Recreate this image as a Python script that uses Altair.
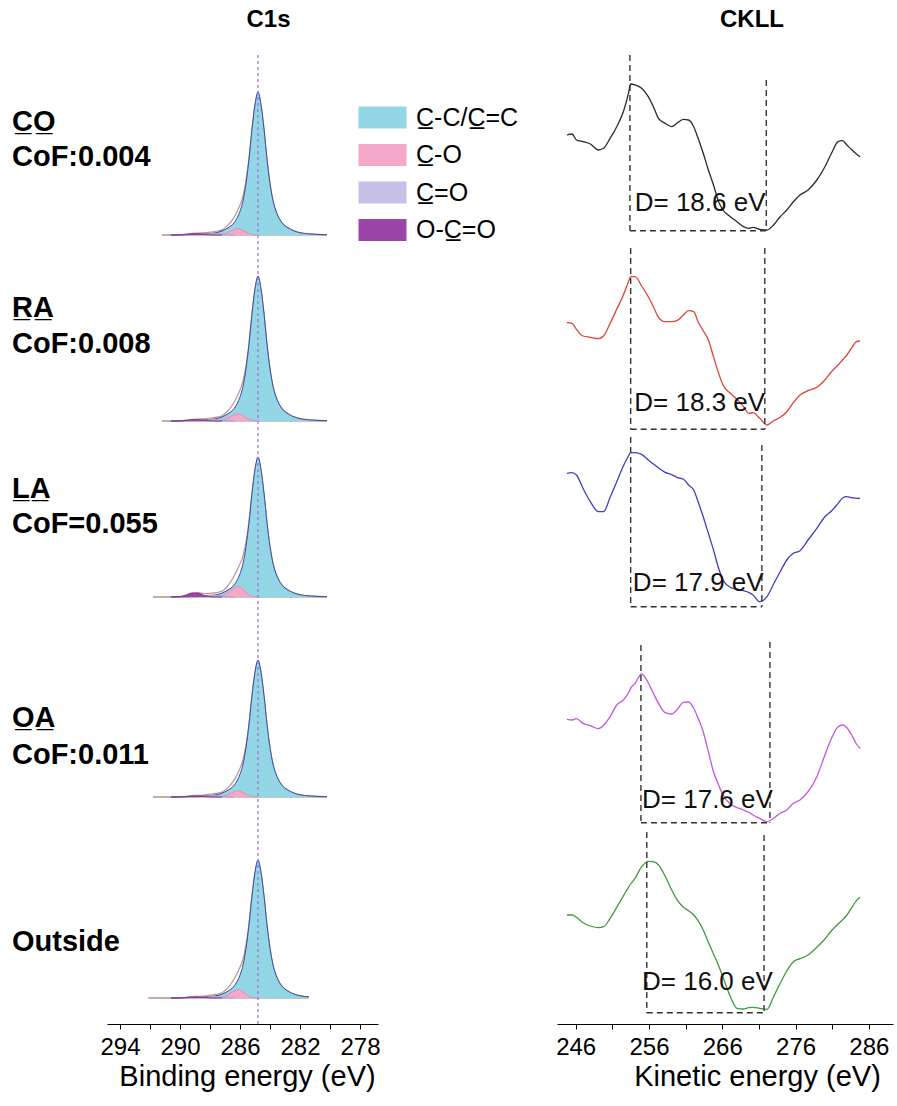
import altair as alt
import pandas as pd

FONT = "Liberation Sans, Arial, Helvetica, sans-serif"

# ---------------- samples / labels ----------------
samples = ["CO", "RA", "LA", "OA", "Outside"]
name_text = ["C\u0332O\u0332", "R\u0332A\u0332", "L\u0332A\u0332", "O\u0332A\u0332", "Outside"]
name_y = [902, 716, 535, 306, 82]
cof_text = ["CoF:0.004", "CoF:0.008", "CoF=0.055", "CoF:0.011"]
cof_y = [867, 680, 500, 269]

# ---------------- C1s (binding energy) ----------------
c1s_baseline = [789, 603, 427, 227, 26]      # stacking offsets (a.u.)
c1s_height = [143, 145, 140, 137, 138]       # C-C peak intensity (a.u.)
span_lo = [280.2, 280.2, 280.2, 280.2, 281.4]
span_hi = [291.2, 291.2, 291.8, 291.8, 292.1]
be_grid = [280.2, 280.8, 281.4, 282.0, 282.5, 282.8, 283.2, 283.5, 283.8, 284.0,
           284.2, 284.4, 284.6, 284.8, 285.0, 285.2, 285.4, 285.6, 285.8, 286.1,
           286.4, 286.8, 287.2, 287.6, 288.0, 288.4, 288.8, 289.2, 289.6, 290.0,
           290.6, 291.2, 291.8, 292.1]
cc_shape = [0.002, 0.004, 0.008, 0.016, 0.033, 0.05, 0.085, 0.14, 0.24, 0.36,
            0.53, 0.74, 0.91, 1.0, 0.91, 0.74, 0.53, 0.36, 0.24, 0.14,
            0.085, 0.05, 0.028, 0.016, 0.010, 0.007, 0.004, 0.003, 0.002, 0.001,
            0, 0, 0, 0]
co_shape = [0, 0, 0, 0, 0, 0, 0, 0, 0, 0,
            0, 0, 0, 0, 0.02, 0.06, 0.2, 0.45, 0.72, 1.0,
            0.85, 0.4, 0.1, 0.02, 0, 0, 0, 0, 0, 0,
            0, 0, 0, 0]
ceo_shape = [0, 0, 0, 0, 0, 0, 0, 0, 0, 0,
             0, 0, 0, 0, 0, 0, 0, 0, 0, 0,
             0, 0.05, 0.35, 0.9, 0.9, 0.4, 0.08, 0, 0, 0,
             0, 0, 0, 0]
ocoo_shape = [0, 0, 0, 0, 0, 0, 0, 0, 0, 0,
              0, 0, 0, 0, 0, 0, 0, 0, 0, 0,
              0, 0, 0, 0.02, 0.08, 0.4, 0.9, 0.9, 0.4, 0.08,
              0, 0, 0, 0]
cc_amp = [1, 1, 1, 1, 1]
co_amp = [0.045, 0.05, 0.075, 0.045, 0.06]
ceo_amp = [0.01, 0.01, 0.015, 0.01, 0.01]
ocoo_amp = [0.01, 0.01, 0.03, 0.008, 0.008]
cc_peak_be = 284.8
marker_top = 969

components = ["C\u0332-C/C\u0332=C", "C\u0332-O", "C\u0332=O", "O-C\u0332=O"]
comp_colors = ["#93d6e6", "#f5a9c8", "#c7bfe6", "#9c45a8"]
comp_lines = ["#3a4ba0", "#e48db3", "#a99fd6", "#8a3596"]

# ---------------- CKLL (kinetic energy) ----------------
ke = [244.8, 245.5, 246.1, 247.0, 248.0, 249.1, 249.8, 250.7, 251.6, 252.5,
      253.2, 253.5, 254.1, 255.0, 255.9, 256.6, 257.3, 258.2, 259.1, 259.8,
      260.7, 261.4, 262.1, 262.7, 263.4, 264.1, 264.8, 265.5, 266.1, 267.1,
      268.0, 268.9, 269.6, 270.2, 271.1, 272.1, 273.0, 273.9, 274.8, 275.7,
      276.6, 277.7, 278.9, 280.0, 280.9, 281.8, 282.4, 283.0, 283.7, 284.3, 284.8]
ckll_CO = [135.0, 136.0, 130.0, 128.3, 126.0, 120.0, 121.7, 131.7, 143.3, 158.3,
           176.7, 186.0, 185.0, 181.7, 173.3, 163.3, 151.7, 146.7, 143.3, 146.7,
           150.7, 150.0, 143.3, 131.7, 116.7, 100.0, 85.0, 68.3, 60.0, 53.3,
           48.3, 43.3, 41.7, 42.7, 40.7, 40.0, 45.0, 53.3, 60.0, 68.3,
           75.0, 80.0, 90.0, 103.3, 116.7, 128.3, 129.3, 125.0, 120.0, 116.0, 113.3]
ckll_RA = [137.3, 136.7, 130.7, 124.0, 122.7, 121.3, 124.0, 136.7, 150.7, 165.0,
           178.3, 183.3, 183.3, 174.0, 163.3, 153.3, 142.7, 138.3, 138.3, 139.3,
           145.0, 149.3, 148.3, 138.3, 129.3, 120.0, 103.3, 86.7, 75.0, 66.7,
           60.7, 53.3, 46.7, 47.3, 41.7, 35.0, 39.3, 42.7, 48.3, 57.3,
           65.0, 69.3, 72.7, 80.0, 88.3, 95.0, 100.0, 105.0, 112.7, 118.3, 119.0]
ckll_LA = [166.7, 167.3, 165.0, 151.7, 138.3, 128.3, 128.3, 142.7, 158.3, 174.0,
           184.0, 187.3, 187.3, 185.7, 180.0, 176.0, 172.0, 167.7, 165.3, 162.7,
           160.7, 155.0, 150.0, 138.3, 123.3, 106.7, 90.0, 71.7, 60.0, 52.7,
           51.0, 49.3, 47.7, 45.0, 38.3, 43.3, 56.0, 68.3, 80.0, 86.7,
           89.3, 100.0, 111.7, 123.3, 129.0, 136.7, 142.0, 143.3, 142.3, 141.7, 141.7]
ckll_OA = [120.7, 120.0, 121.3, 116.7, 114.3, 111.3, 114.7, 123.3, 135.0, 140.0,
           147.3, 151.7, 156.7, 166.0, 157.3, 146.7, 136.7, 127.3, 126.0, 130.0,
           137.7, 138.0, 131.7, 121.7, 108.3, 88.3, 68.3, 55.0, 45.0, 36.0,
           32.3, 30.0, 27.7, 25.0, 21.7, 18.3, 21.7, 26.7, 30.0, 36.7,
           40.0, 48.3, 63.3, 85.0, 101.7, 113.3, 115.0, 112.3, 104.3, 96.0, 91.7]
ckll_Out = [105.0, 105.0, 102.7, 97.3, 94.0, 92.3, 93.3, 101.7, 112.7, 124.0,
            132.7, 136.0, 141.7, 153.3, 158.7, 158.3, 155.0, 144.0, 130.0, 120.7,
            112.7, 109.3, 105.0, 99.3, 90.0, 77.7, 66.0, 54.3, 42.7, 23.3,
            11.7, 11.0, 12.3, 12.7, 11.7, 10.7, 23.3, 36.7, 49.0, 58.3,
            61.3, 65.0, 72.7, 81.0, 89.3, 96.0, 100.0, 105.0, 112.7, 119.3, 122.7]
ckll_offset = [754, 564, 384, 184, 4]
curve_colors = ["#2a2a2a", "#e0433b", "#3f3fc4", "#c157df", "#3f9a3f"]

d_x1 = [253.4, 253.5, 253.5, 254.9, 255.7]
d_x2 = [272.0, 271.8, 271.4, 272.5, 271.7]
d_top1 = [969, 776, 587, 379, 192]
d_top2 = [944, 776, 579, 382, 189]
d_bottom = [793.3, 594.7, 417.3, 201.3, 11.3]
d_values = ["18.6", "18.3", "17.9", "17.6", "16.0"]
d_label_y = [821, 621, 441, 224, 42]

# ---------------- tables ----------------
shapes = [cc_shape, co_shape, ceo_shape, ocoo_shape]
amps = [cc_amp, co_amp, ceo_amp, ocoo_amp]
comp_rows, env_rows = [], []
for i, s in enumerate(samples):
    base, h = c1s_baseline[i], c1s_height[i]
    idx = [j for j, b in enumerate(be_grid) if span_lo[i] <= b <= span_hi[i]]
    for k, comp in enumerate(components):
        sh = shapes[k]
        for j in idx:
            near = any(sh[m] > 0 for m in range(max(0, j - 1), min(len(sh), j + 2)))
            if not near:
                continue
            comp_rows.append(dict(sample=s, component=comp, be=be_grid[j],
                                  y0=base, y=base + h * amps[k][i] * sh[j]))
    for j in idx:
        tot = sum(amps[k][i] * shapes[k][j] for k in range(4))
        env_rows.append(dict(sample=s, be=be_grid[j], y0=base, y=base + h * tot))
comp_df = pd.DataFrame(comp_rows)
env_df = pd.DataFrame(env_rows)
marker_df = pd.DataFrame({"be": [cc_peak_be], "y": [marker_top], "y0": [0]})

lab_rows = [dict(label=t, ly=y) for t, y in zip(name_text, name_y)]
lab_rows += [dict(label=t, ly=y) for t, y in zip(cof_text, cof_y)]
lab_df = pd.DataFrame(lab_rows)

curves = [ckll_CO, ckll_RA, ckll_LA, ckll_OA, ckll_Out]
cur_rows = []
for i, s in enumerate(samples):
    for e, v in zip(ke, curves[i]):
        cur_rows.append(dict(sample=s, ke=e, y=ckll_offset[i] + v))
cur_df = pd.DataFrame(cur_rows)

seg_rows, dlab_rows = [], []
for i in range(5):
    seg_rows.append(dict(xa=d_x1[i], xb=d_x1[i], ya=d_top1[i], yb=d_bottom[i]))
    seg_rows.append(dict(xa=d_x2[i], xb=d_x2[i], ya=d_top2[i], yb=d_bottom[i]))
    seg_rows.append(dict(xa=d_x1[i], xb=d_x2[i], ya=d_bottom[i], yb=d_bottom[i]))
    dlab_rows.append(dict(xm=(d_x1[i] + d_x2[i]) / 2, ly=d_label_y[i],
                          label="D= " + d_values[i] + " eV"))
seg_df = pd.DataFrame(seg_rows)
dlab_df = pd.DataFrame(dlab_rows)

# ---------------- scales ----------------
W_L, W_R, H = 271, 336, 980
scale_be = alt.Scale(domain=[276.8, 294.867], reverse=True, nice=False, zero=False)
scale_ke = alt.Scale(domain=[243.45, 289.29], nice=False, zero=False)
scale_y = alt.Scale(domain=[0, 980], nice=False, zero=False)
axis_be = alt.Axis(values=list(range(278, 295, 2)),
                   labelExpr="datum.value % 4 == 2 ? datum.label : ''",
                   labelFontSize=24, labelPadding=6,
                   title="Binding energy (eV)", titleX=140, titleAlign="center")
axis_ke = alt.Axis(values=list(range(246, 287, 5)),
                   labelExpr="datum.value % 10 == 6 ? datum.label : ''",
                   labelFontSize=24, labelPadding=6,
                   title="Kinetic energy (eV)", titleX=200, titleAlign="center")


def X_L(f):
    return alt.X(f + ":Q", scale=scale_be, axis=axis_be)


def X_R(f):
    return alt.X(f + ":Q", scale=scale_ke, axis=axis_ke)


def Y(f):
    return alt.Y(f + ":Q", scale=scale_y, axis=None)


legend = alt.Legend(orient="none", legendX=263, legendY=61, title=None, padding=0,
                    symbolType="M-2,-0.917H2V0.917H-2Z", symbolSize=576,
                    symbolStrokeWidth=0, symbolOpacity=1,
                    labelFont=FONT, labelFontSize=25, labelColor="black",
                    labelOffset=21, labelLimit=0, rowPadding=11.5)
fill_enc = alt.Fill("component:N", scale=alt.Scale(domain=components, range=comp_colors),
                    legend=legend)

base_line = alt.Chart(env_df).mark_line(color="#8c8c8c", strokeWidth=1).encode(
    x=X_L("be"), y=Y("y0"), detail="sample:N")
env_line = alt.Chart(env_df).mark_line(color="#c39090", strokeWidth=1.2,
                                       interpolate="monotone").encode(
    x=X_L("be"), y=Y("y"), detail="sample:N")
areas = []
for k, comp in enumerate(components):
    areas.append(
        alt.Chart(comp_df).transform_filter(alt.datum.component == comp)
        .mark_area(interpolate="monotone", opacity=1,
                   line={"color": comp_lines[k], "strokeWidth": 1})
        .encode(x=X_L("be"), y=Y("y"), y2="y0", fill=fill_enc, detail="sample:N")
    )
marker = alt.Chart(marker_df).mark_rule(color="#9b6fc8", strokeDash=[3, 3],
                                        strokeWidth=1.2).encode(
    x=X_L("be"), y=Y("y"), y2="y0")
labels = alt.Chart(lab_df).mark_text(align="left", baseline="middle", font=FONT,
                                     fontSize=29, fontWeight="bold",
                                     color="black").encode(
    x=alt.value(-95), y=Y("ly"), text="label:N")

left = alt.layer(base_line, env_line, *areas, marker, labels).properties(
    width=W_L, height=H,
    title=alt.TitleParams("C1s", fontSize=24, fontWeight="bold", font=FONT,
                          anchor="middle", dx=26, offset=12, color="black"))

lines = alt.Chart(cur_df).mark_line(interpolate="monotone", strokeWidth=1.3).encode(
    x=X_R("ke"), y=Y("y"),
    stroke=alt.Stroke("sample:N", scale=alt.Scale(domain=samples, range=curve_colors),
                      legend=None))
segs = alt.Chart(seg_df).mark_rule(color="#333333", strokeDash=[6, 4],
                                   strokeWidth=1.4).encode(
    x=X_R("xa"), x2="xb", y=Y("ya"), y2="yb")
dtext = alt.Chart(dlab_df).mark_text(font=FONT, fontSize=26, align="center",
                                     baseline="middle", dx=2, color="#111111").encode(
    x=X_R("xm"), y=Y("ly"), text="label:N")

right = alt.layer(lines, segs, dtext).properties(
    width=W_R, height=H,
    title=alt.TitleParams("CKLL", fontSize=24, fontWeight="bold", font=FONT,
                          anchor="middle", dx=27, offset=12, color="black"))

chart = (
    alt.hconcat(left, right, spacing=179, bounds="flush")
    .resolve_scale(fill="independent", stroke="independent")
    .properties(padding={"left": 12, "top": 8, "right": 4, "bottom": 4},
                background="white")
    .configure_view(stroke=None)
    .configure_axis(grid=False, domainColor="black", domainWidth=1, tickColor="black",
                    tickSize=5, labelFont=FONT, labelColor="black",
                    titleFont=FONT, titleFontSize=29,
                    titleFontWeight="normal", titleColor="black", titlePadding=3)
)

chart.save("out.html", embed_options={"renderer": "svg", "actions": False})
